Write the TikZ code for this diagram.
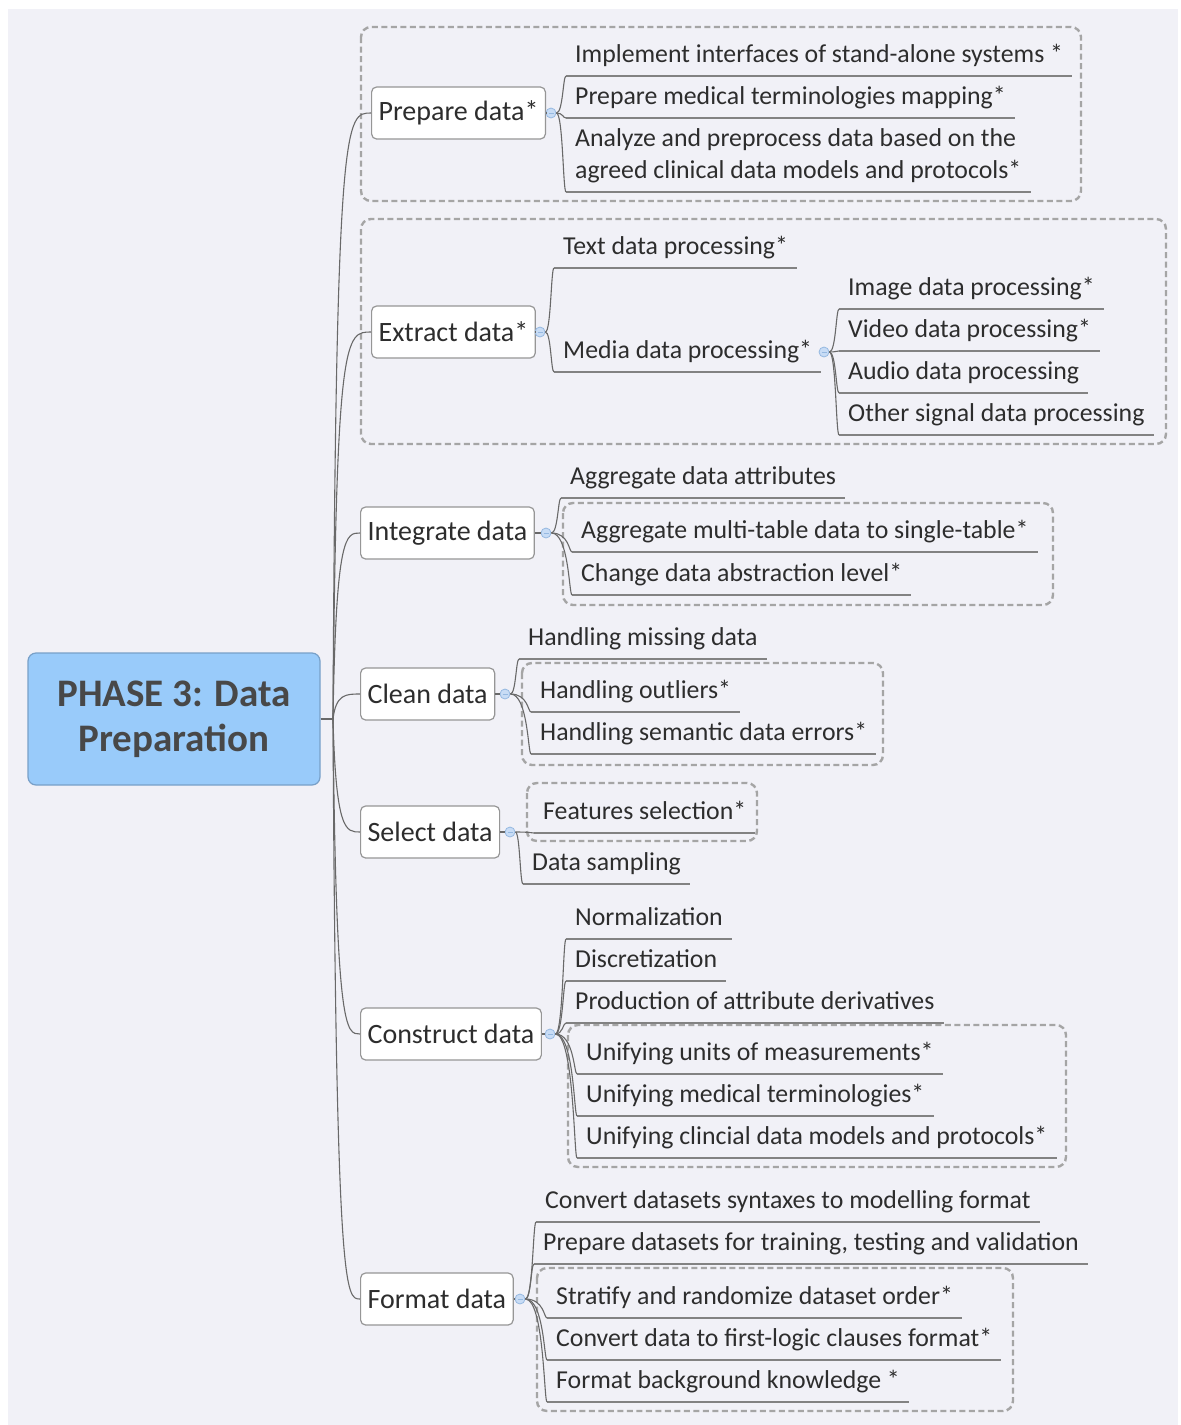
\documentclass[tikz,border=0pt]{standalone}
\usepackage{fontspec}
\setmainfont{Carlito}
\usetikzlibrary{calc}

\definecolor{canvas}{RGB}{241,241,247}
\definecolor{rootfill}{RGB}{153,203,250}
\definecolor{rootline}{RGB}{120,160,200}
\definecolor{roottext}{RGB}{72,72,72}
\definecolor{boxline}{RGB}{150,150,150}
\definecolor{grouptint}{RGB}{165,165,165}
\definecolor{inktext}{RGB}{45,45,45}
\definecolor{linkline}{RGB}{105,105,105}
\definecolor{rulegray}{RGB}{130,130,130}
\definecolor{knobfill}{RGB}{200,220,245}
\definecolor{knobline}{RGB}{150,185,225}

\tikzset{
  rootbox/.style={draw=rootline, fill=rootfill, rounded corners=8pt, line width=1.2pt,
    minimum width=292pt, minimum height=132pt, align=center, text=roottext,
    font=\fontsize{39}{45}\selectfont\bfseries},
  branchbox/.style={draw=boxline, fill=white, rounded corners=5pt, line width=1.2pt,
    minimum height=52pt, inner xsep=7pt, anchor=west, text=inktext,
    font=\fontsize{28}{34}\selectfont},
  leaf/.style={anchor=south west, inner xsep=9pt, inner ysep=6pt, text height=18pt,
    text depth=7pt, text=inktext, font=\fontsize{25.8}{32}\selectfont},
  uline/.style={draw=rulegray, line width=1.4pt},
  link/.style={draw=linkline, line width=1.1pt},
  group/.style={draw=grouptint, line width=2.4pt, dash pattern=on 6pt off 3.5pt,
    rounded corners=10pt},
  knob/.style={circle, minimum size=10pt, inner sep=0pt, fill=knobfill, draw=knobline,
    line width=0.8pt,
    path picture={\draw[knobline, line width=0.8pt]
      ($(path picture bounding box.center)+(-2.5,0)$) -- ++(5,0);}},
}

% bracket-shaped link from a knob to the left end of a leaf's rule
\newcommand{\kidlink}[2]{%
  \path ($(#2.south west)+(-3,0)$) coordinate (kidv);
  \draw[link] (#1.east) .. controls (kidv |- #1.east) and (kidv) .. (#2.south west);}

\begin{document}
\begin{tikzpicture}[x=1pt,y=-1pt]
\useasboundingbox (0,0) rectangle (1181,1425);
\fill[white] (0,0) rectangle (1181,1425);
\fill[canvas] (8,9) rectangle (1178,1425);

% dashed group frames
\draw[group] (361,27) rectangle (1081,201);
\draw[group] (361,219) rectangle (1166,444);
\draw[group] (563,503) rectangle (1053,605);
\draw[group] (522,663) rectangle (883,765);
\draw[group] (527,783) rectangle (757,841);
\draw[group] (568,1025) rectangle (1066,1167);
\draw[group] (537,1268) rectangle (1013,1411);

% central topic
\node[rootbox] (root) at (174,719) {PHASE 3: Data\\Preparation};

% main branches
\node[branchbox] (bprep) at (371,113) {Prepare data*};
\node[branchbox] (bextr) at (371,332) {Extract data*};
\node[branchbox] (binte) at (360,533) {Integrate data};
\node[branchbox] (bclea) at (360,694) {Clean data};
\node[branchbox] (bsele) at (360,832) {Select data};
\node[branchbox] (bcons) at (360,1034) {Construct data};
\node[branchbox] (bform) at (360,1299) {Format data};

% collapse knobs
\node[knob] (kprep) at (551,113) {};
\node[knob] (kextr) at (540,332) {};
\node[knob] (kinte) at (546,533) {};
\node[knob] (kclea) at (505,694) {};
\node[knob] (ksele) at (510,832) {};
\node[knob] (kcons) at (550,1034) {};
\node[knob] (kform) at (520,1299) {};
\node[knob] (kmedi) at (824,352) {};

% leaves
\node[leaf] (p1) at (566,76) {Implement interfaces of stand-alone systems *};
\node[leaf] (p2) at (566,118) {Prepare medical terminologies mapping*};
\node[leaf] (p3) at (566,192) {\parbox[b]{447pt}{\raggedright Analyze and preprocess data based on the\\agreed clinical data models and protocols*}};

\node[leaf] (e1) at (554,268) {Text data processing*};
\node[leaf] (e2) at (554,372) {Media data processing*\hspace{12pt}};
\node[leaf] (m1) at (839,309) {Image data processing*};
\node[leaf] (m2) at (839,351) {Video data processing*};
\node[leaf] (m3) at (839,393) {Audio data processing};
\node[leaf] (m4) at (839,435) {Other signal data processing};

\node[leaf] (i1) at (561,498) {Aggregate data attributes};
\node[leaf] (i2) at (572,552) {Aggregate multi-table data to single-table*};
\node[leaf] (i3) at (572,595) {Change data abstraction level*};

\node[leaf] (c1) at (519,659) {Handling missing data};
\node[leaf] (c2) at (531,712) {Handling outliers*};
\node[leaf] (c3) at (531,754) {Handling semantic data errors*};

\node[leaf] (s1) at (534,833) {Features selection*};
\node[leaf] (s2) at (523,884) {Data sampling};

\node[leaf] (k1) at (566,939) {Normalization};
\node[leaf] (k2) at (566,981) {Discretization};
\node[leaf] (k3) at (566,1023) {Production of attribute derivatives};
\node[leaf] (k4) at (577,1074) {Unifying units of measurements*};
\node[leaf] (k5) at (577,1116) {Unifying medical terminologies*};
\node[leaf] (k6) at (577,1158) {Unifying clincial data models and protocols*};

\node[leaf] (f1) at (536,1222) {Convert datasets syntaxes to modelling format};
\node[leaf] (f2) at (534,1264) {Prepare datasets for training, testing and validation};
\node[leaf] (f3) at (547,1318) {Stratify and randomize dataset order*};
\node[leaf] (f4) at (547,1360) {Convert data to first-logic clauses format*};
\node[leaf] (f5) at (547,1402) {Format background knowledge *};

% rules under the leaves
\foreach \n in {p1,p2,p3,e1,e2,m1,m2,m3,m4,i1,i2,i3,c1,c2,c3,s1,s2,
                k1,k2,k3,k4,k5,k6,f1,f2,f3,f4,f5}
  \draw[uline] (\n.south west) -- (\n.south east);

% trunk from the central topic
\coordinate (hub) at (333,719);
\coordinate (hubA) at (336,719);
\coordinate (hubB) at (346,719);
\draw[link] (root.east) -- (hub);
\foreach \b in {bprep,bextr,binte,bclea,bsele,bcons,bform}
  \draw[link] (hub) .. controls (hubA |- \b.west) and (hubB |- \b.west) .. (\b.west);

% branch to knob
\foreach \b/\k in {bprep/kprep,bextr/kextr,binte/kinte,bclea/kclea,bsele/ksele,bcons/kcons,bform/kform}
  \draw[link] (\b.east) -- (\k.west);

% knob to leaves
\foreach \l in {p1,p2,p3} {\kidlink{kprep}{\l}}
\foreach \l in {e1,e2} {\kidlink{kextr}{\l}}
\foreach \l in {m1,m2,m3,m4} {\kidlink{kmedi}{\l}}
\foreach \l in {i1,i2,i3} {\kidlink{kinte}{\l}}
\foreach \l in {c1,c2,c3} {\kidlink{kclea}{\l}}
\foreach \l in {s1,s2} {\kidlink{ksele}{\l}}
\foreach \l in {k1,k2,k3,k4,k5,k6} {\kidlink{kcons}{\l}}
\foreach \l in {f1,f2,f3,f4,f5} {\kidlink{kform}{\l}}
\end{tikzpicture}
\end{document}
